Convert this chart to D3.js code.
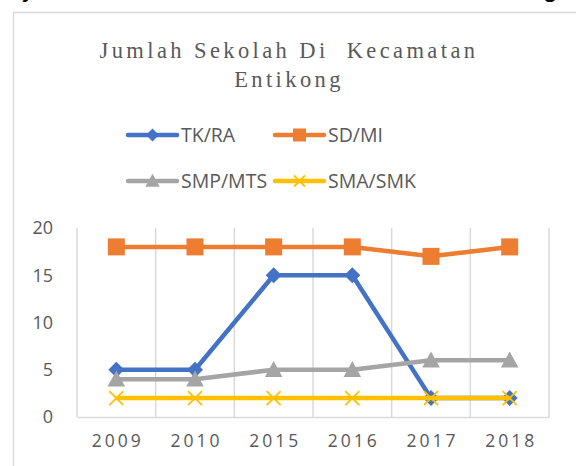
<!DOCTYPE html>
<html><head><meta charset="utf-8">
<script src="https://cdn.jsdelivr.net/npm/d3@7"></script>
<style>
html,body{margin:0;padding:0;background:#fff;overflow:hidden;}
svg{display:block;}
</style></head>
<body>
<script>
const years = ["2009","2010","2015","2016","2017","2018"];
const tkRa = [5,5,15,15,2,2];
const sdMi = [18,18,18,18,17,18];
const smpMts = [4,4,5,5,6,6];
const smaSmk = [2,2,2,2,2,2];
const yTicks = [0,5,10,15,20];
const titleLines = ["Jumlah Sekolah Di  Kecamatan","Entikong"];

const series = [
  {name:"TK/RA", values:tkRa, color:"#4472C4", marker:"diamond"},
  {name:"SD/MI", values:sdMi, color:"#ED7D31", marker:"square"},
  {name:"SMP/MTS", values:smpMts, color:"#A5A5A5", marker:"triangle"},
  {name:"SMA/SMK", values:smaSmk, color:"#FFC000", marker:"x"}
];

const W=576,H=466;
const svg=d3.select("body").append("svg").attr("width",W).attr("height",H);

// cut-off descenders of text above the chart
svg.append("text").attr("x",22).attr("y",-3).attr("font-family","Liberation Sans, Arial").attr("font-size",26).attr("fill","#000").text("y");
svg.append("text").attr("x",543).attr("y",-3).attr("font-family","Liberation Sans, Arial").attr("font-size",26).attr("fill","#000").text("g");

// chart border
svg.append("path").attr("d","M13.5,466 V12.5 H576").attr("fill","none").attr("stroke","#D9D9D9").attr("stroke-width",1.5);

// title
const title=svg.append("text").attr("text-anchor","middle").attr("fill","#595959")
  .attr("font-family","Liberation Serif, DejaVu Serif, serif").attr("font-size",22.5).attr("letter-spacing","3.4px");
titleLines.forEach((t,i)=>title.append("tspan").attr("x",289).attr("y",58+i*29).attr("xml:space","preserve").style("white-space","pre").text(t));

const x=d3.scaleBand().domain(years).range([77,549]);
const y=d3.scaleLinear().domain([0,20]).range([417,228]);

// vertical gridlines
const edges=years.map(d=>x(d)).concat([x.range()[1]]);
svg.append("g").selectAll("line").data(edges).join("line")
  .attr("x1",d=>d).attr("x2",d=>d).attr("y1",y(20)).attr("y2",y(0))
  .attr("stroke","#D9D9D9").attr("stroke-width",1.5);

// x axis
const xAxis=svg.append("g").attr("transform",`translate(0,${y(0)})`)
  .call(d3.axisBottom(x).tickSize(0).tickPadding(18));
xAxis.select(".domain").attr("stroke","#D9D9D9").attr("stroke-width",1.5);
xAxis.selectAll("text").attr("font-family","Open Sans, Noto Sans, sans-serif").attr("font-size",17.5)
  .attr("fill","#595959").attr("letter-spacing","3px").attr("dx","1.5px");

// y axis
const yAxis=svg.append("g").attr("transform",`translate(${x.range()[0]},0)`)
  .call(d3.axisLeft(y).tickValues(yTicks).tickSize(0).tickPadding(24));
yAxis.select(".domain").remove();
yAxis.selectAll("text").attr("font-family","Open Sans, Noto Sans, sans-serif").attr("font-size",18).attr("fill","#595959");

const cx=d=>x(d)+x.bandwidth()/2;

function marker(g,type,color,size){
  const s=size/2;
  if(type==="diamond") g.append("path").attr("d",`M0,${-s}L${s},0L0,${s}L${-s},0Z`).attr("fill",color);
  if(type==="square") g.append("rect").attr("x",-s).attr("y",-s).attr("width",size).attr("height",size).attr("fill",color);
  if(type==="triangle") g.append("path").attr("d",`M0,${-size*0.55} L${size*0.55},${size*0.45} L${-size*0.55},${size*0.45}Z`).attr("fill",color);
  if(type==="x") g.append("path").attr("d",`M${-s},${-s}L${s},${s}M${-s},${s}L${s},${-s}`).attr("stroke",color).attr("stroke-width",1.8);
}

// lines and markers
const line=d3.line().x((v,i)=>cx(years[i])).y(v=>y(v));
series.forEach(s=>{
  svg.append("path").attr("d",line(s.values)).attr("fill","none").attr("stroke",s.color).attr("stroke-width",4.5).attr("stroke-linejoin","round");
  s.values.forEach((v,i)=>{
    const g=svg.append("g").attr("transform",`translate(${cx(years[i])},${y(v)})`);
    marker(g,s.marker,s.color,{diamond:16,square:17,triangle:16,x:14}[s.marker]);
  });
});

// legend
const legPos=[[128,135],[275,135],[128,181],[275,181]];
series.forEach((s,i)=>{
  const [lx,ly]=legPos[i];
  const g=svg.append("g").attr("transform",`translate(${lx},${ly})`);
  g.append("line").attr("x1",0).attr("x2",49).attr("y1",0).attr("y2",0).attr("stroke",s.color).attr("stroke-width",4.5).attr("stroke-linecap","round");
  const mg=g.append("g").attr("transform","translate(24.5,0)");
  marker(mg,s.marker,s.color,{diamond:13,square:13,triangle:13,x:11}[s.marker]);
  g.append("text").attr("x",53).attr("y",0).attr("dy","0.35em").attr("font-family","Open Sans, Noto Sans, sans-serif")
    .attr("font-size",19.5).attr("fill","#595959").text(s.name);
});
</script>
</body></html>
